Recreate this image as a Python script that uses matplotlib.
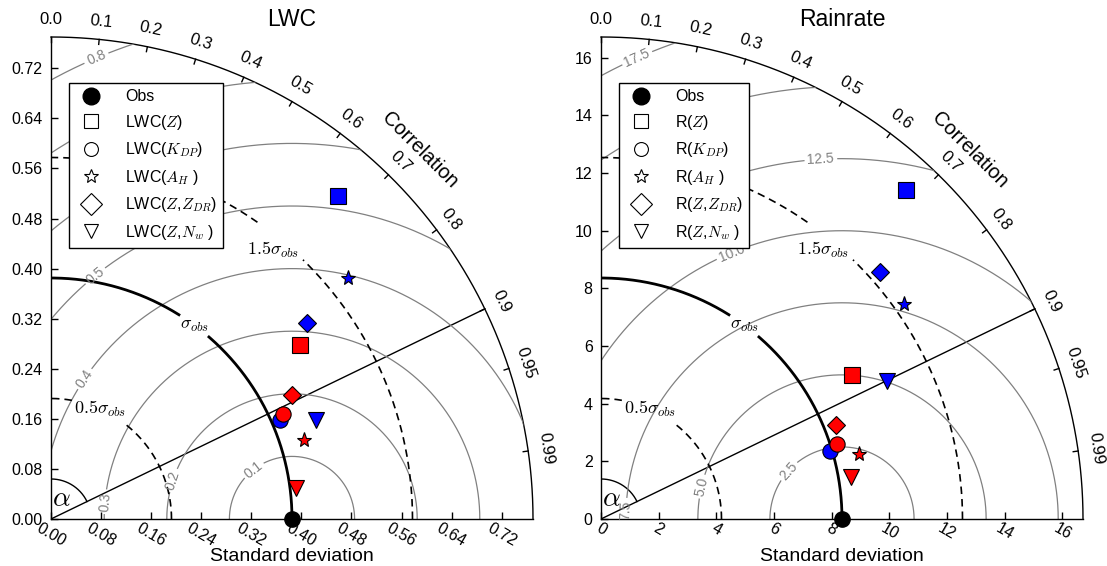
import numpy as np
import matplotlib
matplotlib.use("Agg")
import matplotlib.pyplot as plt
from matplotlib.lines import Line2D
from matplotlib.patches import Wedge

plt.rcParams['font.family'] = ['Liberation Sans', 'DejaVu Sans']
plt.rcParams['mathtext.fontset'] = 'cm'

# ---- data ----
panel_titles = ["LWC", "Rainrate"]
label_prefix = ["LWC", "R"]
obs_std = [0.385, 8.36]

std_ticks = [[0.0, 0.08, 0.16, 0.24, 0.32, 0.40, 0.48, 0.56, 0.64, 0.72],
             [0, 2, 4, 6, 8, 10, 12, 14, 16]]
std_tick_fmt = ["%.2f", "%d"]

corr_ticks = [0.0, 0.1, 0.2, 0.3, 0.4, 0.5, 0.6, 0.7, 0.8, 0.9, 0.95, 0.99]

estimators = [r"$Z$", r"$K_{DP}$", r"$A_H$ ", r"$Z$,$Z_{DR}$", r"$Z$,$N_w$ "]
est_markers = ["s", "o", "*", "D", "v"]

lwc_std_red = [0.486, 0.406, 0.424, 0.433, 0.395]
lwc_corr_red = [0.820, 0.911, 0.955, 0.890, 0.992]
lwc_std_blue = [0.691, 0.398, 0.611, 0.515, 0.452]
lwc_corr_blue = [0.664, 0.918, 0.776, 0.794, 0.937]

rain_std_red = [10.03, 8.59, 9.23, 8.78, 8.80]
rain_corr_red = [0.867, 0.953, 0.970, 0.928, 0.986]
rain_std_blue = [15.58, 8.28, 12.89, 12.93, 11.02]
rain_corr_blue = [0.680, 0.959, 0.816, 0.748, 0.900]

rms_levels = [[0.1, 0.2, 0.3, 0.4, 0.5, 0.6, 0.7, 0.8],
              [2.5, 5.0, 7.5, 10.0, 12.5, 15.0, 17.5]]
rms_fmt = ["%.1f", "%.1f"]
# angle (deg, around the obs point) where each rms label sits
rms_label_angles = [[128, 162, 174.7, 146, 129, 115, 110, 113],
                    [138, 167, 177.7, 112.5, 93.4, 115, 114]]

# ---- layout ----
fig_w, fig_h, dpi = 11.07, 5.66, 100
ax_px = 482.0
panel_left_px = [51, 601]
bottom_px = 47

fig = plt.figure(figsize=(fig_w, fig_h), dpi=dpi)


def arc_xy(cx, r, t0, t1, gaps=(), n=1500):
	t = np.linspace(t0, t1, n)
	for g0, g1 in gaps:
		t = np.where((t > g0) & (t < g1), np.nan, t)
	return cx + r * np.cos(t), r * np.sin(t)


def draw_panel(ax, k, std_red, corr_red, std_blue, corr_blue):
	ref = obs_std[k]
	smax = 2 * ref
	ppu = ax_px / smax  # pixels per data unit
	ax.set_xlim(0, smax)
	ax.set_ylim(0, smax)
	for s in ['top', 'right']:
		ax.spines[s].set_visible(False)
	for s in ['left', 'bottom']:
		ax.spines[s].set_linewidth(1.0)
	ax.set_xticks(std_ticks[k])
	ax.set_yticks(std_ticks[k])
	ax.set_xticklabels([std_tick_fmt[k] % v for v in std_ticks[k]])
	ax.set_yticklabels([std_tick_fmt[k] % v for v in std_ticks[k]])
	ax.tick_params(direction='in', length=5, width=1, labelsize=11.5)
	ax.tick_params(axis='x', labelrotation=-30, pad=1)
	ax.tick_params(axis='y', pad=6)

	wedge = Wedge((0, 0), smax, 0, 90, transform=ax.transData)

	# outer arc and correlation ticks
	x, y = arc_xy(0, smax, 0, np.pi / 2)
	ax.plot(x, y, color='k', lw=1.0, clip_on=False)
	for c in corr_ticks:
		t = np.arccos(c)
		r_in = smax - 5 / ppu
		ax.plot([r_in * np.cos(t), smax * np.cos(t)], [r_in * np.sin(t), smax * np.sin(t)],
				color='k', lw=1.0, clip_on=False)
		r_lab = smax + 18 / ppu
		ax.text(r_lab * np.cos(t), r_lab * np.sin(t), str(c), rotation=np.degrees(t) - 90,
				ha='center', va='center', fontsize=12, rotation_mode='anchor')
	ax.text(1.083 * smax * np.cos(np.pi / 4), 1.083 * smax * np.sin(np.pi / 4), "Correlation",
			rotation=-45, ha='center', va='center', fontsize=14.5, rotation_mode='anchor')

	# 0.9 correlation line and alpha arc
	t9 = np.arccos(0.9)
	ax.plot([0, smax * np.cos(t9)], [0, smax * np.sin(t9)], color='k', lw=1.0)
	x, y = arc_xy(0, 0.083 * smax, t9, np.pi / 2)
	ax.plot(x, y, color='k', lw=1.0)
	ax.text(10.3 / ppu, 20 / ppu, r"$\alpha$", fontsize=20, ha='center', va='center')

	# rms contours around the observation
	for lev, ang in zip(rms_levels[k], rms_label_angles[k]):
		lab = rms_fmt[k] % lev
		w = 10 / 72 * dpi * (0.556 * (len(lab) - 1) + 0.278)
		half = (w / 2 + 3) / (lev * ppu)
		a = np.radians(ang)
		x, y = arc_xy(ref, lev, 0, np.pi, gaps=[(a - half, a + half)])
		ln, = ax.plot(x, y, color='grey', lw=0.9)
		ln.set_clip_path(wedge)
		ax.text(ref + lev * np.cos(a), lev * np.sin(a), lab, color='grey', fontsize=10,
				rotation=ang - 90, ha='center', va='center', rotation_mode='anchor')

	# std reference arcs: factor, label, label angle, label width px, label radius factor
	sig_specs = [(1.0, r"$\sigma_{obs}$", 53.5, 29, 1.0, dict(color='k', lw=2.0)),
				 (0.5, r"$0.5\sigma_{obs}$", 66, 51, 1.0, dict(color='k', lw=1.2, ls=(0, (4.5, 3)))),
				 (1.5, r"$1.5\sigma_{obs}$", 50.5, 51, 0.965, dict(color='k', lw=1.2, ls=(0, (4.5, 3))))]
	for fac, lab, ang, w, rf, kw in sig_specs:
		r = fac * ref
		half = (w / 2 + 4) / (r * ppu)
		a = np.radians(ang)
		x, y = arc_xy(0, r, 0, np.pi / 2, gaps=[(a - half, a + half)])
		ln, = ax.plot(x, y, **kw)
		ln.set_clip_path(wedge)
		ax.text(rf * r * np.cos(a), rf * r * np.sin(a), lab, fontsize=13, ha='center', va='center')

	# model points
	for std_v, corr_v, col in [(std_blue, corr_blue, 'blue'), (std_red, corr_red, 'red')]:
		for s, c, m in zip(std_v, corr_v, est_markers):
			ms = 9.5 if m == 'D' else 11
			ax.plot(s * c, s * np.sin(np.arccos(c)), marker=m, ms=ms, mfc=col, mec='k',
					mew=0.8, ls='none', zorder=4)
	ax.plot(ref, 0, marker='o', ms=11, color='k', ls='none', clip_on=False, zorder=6)

	# legend
	handles = [Line2D([], [], marker='o', ms=12, mfc='k', mec='k', ls='none')]
	for m in est_markers:
		handles.append(Line2D([], [], marker=m, ms=11 if m == 'D' else 10, mfc='white',
							  mec='k', mew=0.8, ls='none'))
	labels = ["Obs"] + ["%s(%s)" % (label_prefix[k], e) for e in estimators]
	leg = ax.legend(handles, labels, loc='upper left', bbox_to_anchor=(0.0373, 0.9046),
					borderaxespad=0, fancybox=False, edgecolor='k', framealpha=1,
					fontsize=11.5, numpoints=1, handlelength=2.0, handletextpad=1.1,
					labelspacing=0.53, borderpad=0.4)
	leg.get_frame().set_linewidth(1.0)
	leg.set_zorder(10)

	ax.set_title(panel_titles[k], fontsize=16.5, pad=8)
	ax.text(0.5, -42 / ax_px, "Standard deviation", fontsize=14,
			ha='center', va='baseline', transform=ax.transAxes)


data = [(lwc_std_red, lwc_corr_red, lwc_std_blue, lwc_corr_blue),
		(rain_std_red, rain_corr_red, rain_std_blue, rain_corr_blue)]

for k in range(2):
	ax = fig.add_axes([panel_left_px[k] / (fig_w * dpi), bottom_px / (fig_h * dpi),
					   ax_px / (fig_w * dpi), ax_px / (fig_h * dpi)])
	draw_panel(ax, k, *data[k])

fig.savefig("out.png", dpi=dpi)
